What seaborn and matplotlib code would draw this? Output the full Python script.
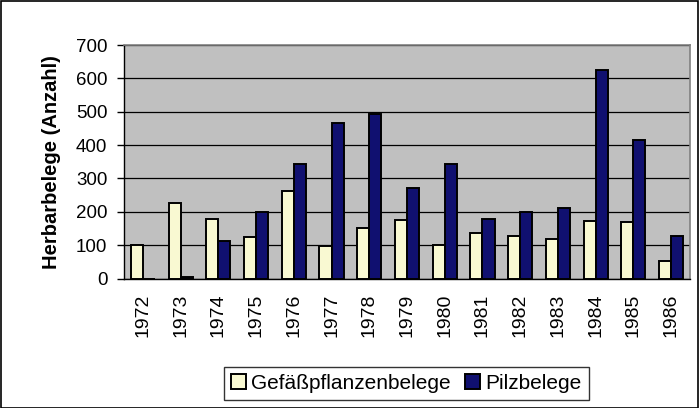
import numpy as np
import pandas as pd
import seaborn as sns
import matplotlib.pyplot as plt
from matplotlib.patches import Rectangle

# values
years = [1972, 1973, 1974, 1975, 1976, 1977, 1978, 1979,
         1980, 1981, 1982, 1983, 1984, 1985, 1986]
gefaess = [101, 227, 179, 125, 262, 97, 150, 175, 100, 137, 126, 118, 171, 170, 52]
pilze = [0, 4, 112, 200, 344, 467, 493, 272, 343, 179, 198, 212, 625, 415, 127]
series_names = ['Gefäßpflanzenbelege', 'Pilzbelege']

df = pd.DataFrame({
    'Jahr': [str(y) for y in years] * 2,
    'Anzahl': gefaess + pilze,
    'Serie': [series_names[0]] * len(years) + [series_names[1]] * len(years),
})

sns.set_style('white')
plt.rcParams['font.family'] = ['Liberation Sans', 'DejaVu Sans']
plt.rcParams['text.color'] = 'black'
plt.rcParams['axes.labelcolor'] = 'black'
plt.rcParams['xtick.color'] = 'black'
plt.rcParams['ytick.color'] = 'black'

fig = plt.figure(figsize=(6.99, 4.08), dpi=100)
ax = fig.add_axes([124 / 699, 1 - 278.5 / 408, 566 / 699, 233.5 / 408])

sns.barplot(data=df, x='Jahr', y='Anzahl', hue='Serie',
            palette=['#FFFFCC', '#000080'], width=0.64, gap=0,
            edgecolor='black', linewidth=1.4, ax=ax, zorder=3)

ax.set_facecolor('#C0C0C0')
ax.set_ylim(0, 700)
ax.set_xlim(-0.5, len(years) - 0.5)
ax.set_yticks(range(0, 701, 100))
ax.yaxis.grid(True, color='black', linewidth=0.9, zorder=0)
ax.set_axisbelow(True)
for side in ['top', 'right']:
    ax.spines[side].set_color('#808080')
    ax.spines[side].set_linewidth(1.2)
for side in ['left', 'bottom']:
    ax.spines[side].set_color('black')
    ax.spines[side].set_linewidth(1.0)

ax.tick_params(axis='x', which='major', length=0, labelsize=14,
               labelrotation=90, pad=11)
ax.set_xticks(np.arange(-0.5, len(years), 1), minor=True)
ax.tick_params(axis='x', which='minor', length=5, width=1, color='black',
               direction='out')
ax.tick_params(axis='y', length=5, width=1, color='black', direction='out',
               labelsize=13.5, pad=7, left=True)

ax.set_xlabel('')
ax.set_ylabel('Herbarbelege (Anzahl)', fontsize=14.5, fontweight='bold', labelpad=11)

ax.legend_.remove()
handles, labels = ax.get_legend_handles_labels()
leg = fig.legend(handles, labels, loc='center', ncol=2,
                 bbox_to_anchor=(406.5 / 699, 1 - 383.5 / 408),
                 frameon=True, fancybox=False, edgecolor='black',
                 fontsize=15, handlelength=0.7, handleheight=0.7,
                 handletextpad=0.25, columnspacing=0.7, borderpad=0.35,
                 borderaxespad=0)
leg.get_frame().set_linewidth(1.0)

# outer chart border
fig.patches.append(Rectangle((0.001, 0.001), 0.998, 0.997, transform=fig.transFigure,
                             fill=False, edgecolor='black', linewidth=1.2))

plt.savefig('out.png', dpi=100)
